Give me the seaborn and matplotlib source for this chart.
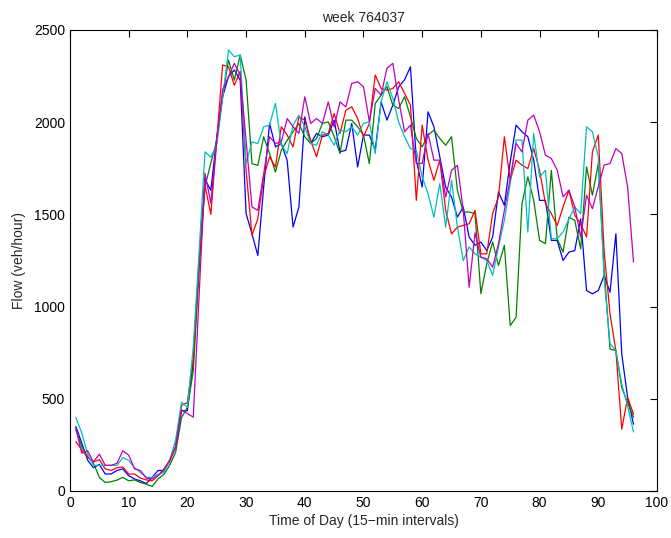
import pandas as pd
import numpy as np
import seaborn as sns
import matplotlib.pyplot as plt

# time of day index, 15-min intervals
intervals = list(range(1, 97))

blue = [350, 260, 167, 126, 144, 92, 92, 111, 120, 83, 65, 55, 40, 74, 111, 111, 167, 240, 435, 435,
        700, 1250, 1690, 1630, 1920, 2137, 2247, 2283, 2228, 1504, 1395, 1277, 1650, 1993, 1866, 1884, 1793, 1431, 1540, 2029,
        1884, 1939, 1921, 1930, 2011, 1839, 1848, 1993, 1757, 1930, 1930, 1850, 2110, 2011, 2092, 2192, 2230, 2300, 1794, 1648,
        2056, 1975, 1812, 1648, 1594, 1485, 1540, 1377, 1332, 1350, 1304, 1377, 1622, 1549, 1785, 1984, 1948, 1921, 1794, 1576,
        1576, 1359, 1359, 1250, 1295, 1304, 1476, 1087, 1069, 1087, 1169, 1078, 1395, 742, 507, 362]

green = [333, 240, 185, 150, 74, 46, 50, 59, 74, 55, 60, 46, 37, 25, 65, 90, 140, 210, 398, 453,
         650, 1200, 1650, 1780, 1900, 2140, 2337, 2228, 2364, 2228, 1775, 1766, 1921, 1830, 1730, 1848, 1902, 1948, 1993, 1921,
         1884, 1911, 1993, 2002, 1921, 1830, 2011, 2011, 1975, 1930, 1775, 2101, 2147, 2192, 2092, 2074, 2138, 2029, 1912, 1866,
         1930, 1957, 1912, 1875, 1921, 1631, 1513, 1513, 1504, 1070, 1232, 1350, 1223, 1332, 897, 942, 1558, 1703, 1576, 1359,
         1341, 1739, 1368, 1295, 1485, 1467, 1313, 1758, 1604, 1776, 1200, 770, 761, 560, 480, 400]

red = [268, 222, 185, 157, 170, 120, 111, 126, 130, 92, 92, 70, 60, 55, 83, 111, 160, 240, 463, 480,
       720, 1250, 1657, 1500, 1900, 2310, 2300, 2200, 2275, 1740, 1386, 1476, 1703, 1812, 1757, 1975, 1930, 1866, 2029, 2011,
       1902, 1812, 1930, 1939, 2047, 1939, 2065, 2083, 2020, 1921, 1993, 2256, 2183, 2174, 2183, 2219, 2156, 2092, 1576, 1984,
       1794, 1685, 1794, 1522, 1394, 1431, 1440, 1449, 1522, 1286, 1286, 1504, 1594, 1921, 1685, 1794, 1767, 1748, 1857, 1739,
       1558, 1504, 1440, 1540, 1631, 1495, 1449, 1377, 1839, 1930, 1300, 960, 760, 335, 507, 417]

cyan = [398, 315, 200, 139, 139, 139, 139, 139, 181, 166, 126, 100, 74, 74, 90, 100, 167, 277, 481, 453,
        780, 1300, 1839, 1810, 1875, 2130, 2391, 2355, 2364, 1776, 1893, 1884, 1975, 1984, 2102, 1875, 1830, 1984, 2038, 1975,
        1884, 1875, 1948, 1930, 1875, 1957, 1948, 1975, 1930, 1993, 2002, 1830, 2110, 2219, 2129, 2000, 1921, 1857, 1848, 1703,
        1612, 1485, 1667, 1431, 1685, 1431, 1249, 1323, 1286, 1268, 1250, 1169, 1323, 1468, 1667, 1903, 1903, 1404, 1939, 1703,
        1739, 1368, 1368, 1404, 1476, 1540, 1504, 1975, 1948, 1812, 1150, 800, 760, 580, 460, 320]

magenta = [340, 205, 218, 157, 200, 139, 139, 150, 218, 194, 120, 111, 70, 65, 83, 120, 167, 240, 440, 420,
           400, 1060, 1723, 1560, 1900, 2175, 2247, 2319, 2255, 1902, 1540, 1522, 1721, 1921, 1884, 1893, 2020, 1975, 1939, 2138,
           1993, 2020, 1993, 2110, 1975, 2110, 2083, 2210, 2219, 2192, 2002, 2183, 2147, 2292, 2319, 2120, 1948, 1984, 1776, 1776,
           1939, 1794, 1794, 1594, 1739, 1766, 1522, 1105, 1400, 1268, 1259, 1214, 1341, 1522, 1694, 1885, 1839, 2011, 2038, 1948,
           1821, 1803, 1740, 1595, 1631, 1540, 1377, 1604, 1531, 1650, 1767, 1776, 1857, 1830, 1649, 1242]

days = ["b", "g", "r", "c", "m"]
colors = {"b": (0, 0, 1), "g": (0, 0.5, 0), "r": (1, 0, 0), "c": (0, 0.75, 0.75), "m": (0.75, 0, 0.75)}

df = pd.DataFrame({
    "interval": intervals * 5,
    "flow": blue + green + red + cyan + magenta,
    "day": [d for d in days for _ in intervals],
})

sns.set_style("white")
plt.rcParams["font.family"] = ["Liberation Sans", "DejaVu Sans"]

fig = plt.figure(figsize=(6.71, 5.38), dpi=100)
ax = fig.add_axes([0.1043, 0.0874, 0.8748, 0.8569])
sns.lineplot(ax=ax, data=df, x="interval", y="flow", hue="day", palette=colors,
             linewidth=0.9, legend=False)

ax.set_xlim(0, 100)
ax.set_ylim(0, 2500)
ax.set_xticks(range(0, 101, 10))
ax.set_yticks(range(0, 2501, 500))
ax.tick_params(direction="in", top=True, right=True, length=5, width=0.8, labelsize=10, colors="black")
for s in ax.spines.values():
    s.set_color("black")
    s.set_linewidth(0.8)
ax.set_title("week 764037", fontsize=10, pad=6)
ax.set_xlabel("Time of Day (15\u2212min intervals)", fontsize=10, labelpad=3)
ax.set_ylabel("Flow (veh/hour)", fontsize=10, labelpad=6)

fig.savefig("out.png", dpi=100, facecolor="white")
